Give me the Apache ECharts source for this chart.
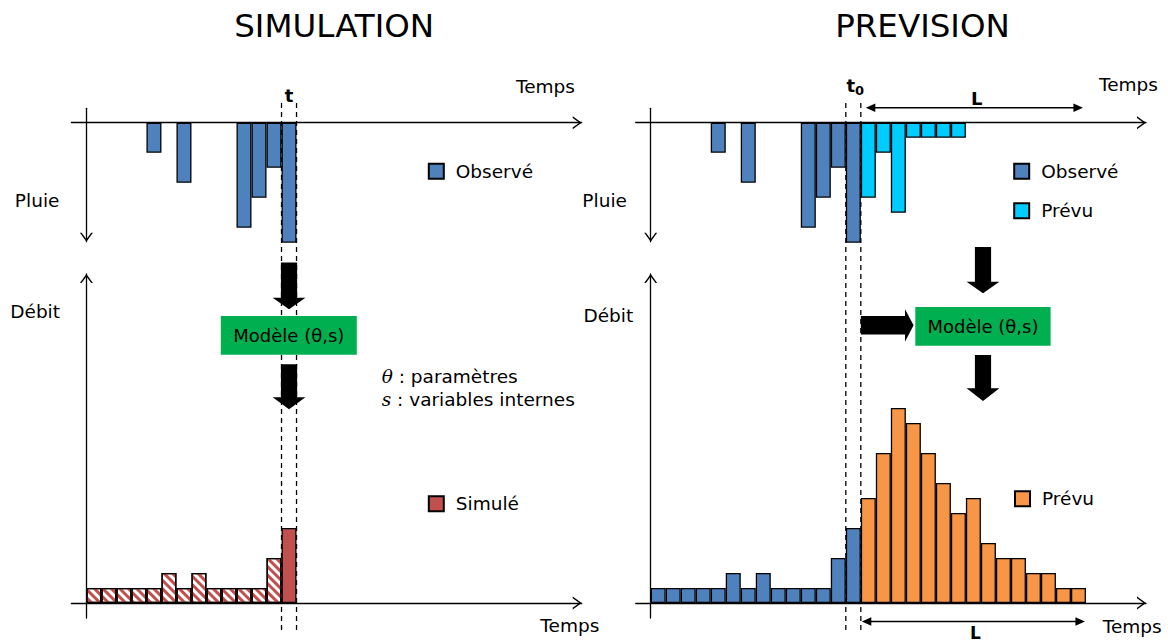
<!DOCTYPE html>
<html><head><meta charset="utf-8">
<script src="https://cdn.jsdelivr.net/npm/echarts@6/dist/echarts.min.js"></script>
<style>html,body{margin:0;padding:0;background:#fff}#c{width:1168px;height:641px}</style>
</head><body><div id="c"></div>
<script>
// ---------- data ----------
const timeSlots = ['0','1','2','3','4','5','6','7','8','9','10','11','12','13','14','15','16',
  '17','18','19','20','21','22','23','24','25','26','27','28','29','30','31','32','33'];
const rainObserved = [0,0,0,0,2,0,4,0,0,0,7,5,3,8];          // pas 1–14
const rainForecast = [5,2,6,1,1,1,1];                        // pas 15–21
const flowSimPast  = [1,1,1,1,1,2,1,2,1,1,1,1,3];            // pas 1–13 (hachuré)
const flowSimNow   = [5];                                    // pas 14 (t)
const flowObserved = [1,1,1,1,1,2,1,2,1,1,1,1,3,5];          // pas 1–14
const flowForecast = [7,10,13,12,10,8,6,7,4,3,3,2,2,1,1];    // pas 15–29
const FIRST_SLOT = 1;

// ---------- style ----------
const FONT = 'DejaVu Sans';
const FS = 18.5;
const C_OBS = '#4f81bd', C_SIM = '#c0504d', C_RAINF = '#00ccff', C_FLOWF = '#f79646', C_BOX = '#00b050';
const CHEV = 'path://M0,9L6.5,0L13,9L11.3,9L6.5,2.4L1.7,9Z';
const GL = 71.4, GR = 635.7, GW = 510.3;
const BW = GW / timeSlots.length;

function place(vals, start) {
  const a = timeSlots.map(() => '-');
  vals.forEach((v, i) => { a[start + i] = v > 0 ? v : '-'; });
  return a;
}

function xAx(gi, pos) {
  return {
    gridIndex: gi, type: 'category', data: timeSlots, position: pos,
    axisLine: { onZero: true, lineStyle: { color: '#000', width: 1.3 },
      symbol: ['none', CHEV], symbolSize: [13, 9], symbolOffset: [0, -4.5] },
    axisTick: { show: false }, axisLabel: { show: false }, splitLine: { show: false }
  };
}
function yAx(gi, inverse, min, max, name, gap, padRight) {
  return {
    gridIndex: gi, type: 'value', inverse, min, max, offset: -BW,
    axisLine: { show: true, onZero: false, lineStyle: { color: '#000', width: 1.3 },
      symbol: inverse ? [CHEV, 'none'] : ['none', CHEV], symbolSize: [13, 9],
      symbolOffset: inverse ? [4.5, 0] : [0, -4.5] },
    axisTick: { show: false }, axisLabel: { show: false }, splitLine: { show: false },
    name, nameLocation: 'end', nameGap: gap,
    nameTextStyle: { fontFamily: FONT, fontSize: FS, color: '#000', align: 'right',
      verticalAlign: 'middle', padding: [0, padRight, 0, 0] }
  };
}
function bar(name, idx, data, color, decal) {
  const itemStyle = { color, borderColor: '#000', borderWidth: 1.3 };
  if (decal) itemStyle.decal = decal;
  return { type: 'bar', name, xAxisIndex: idx, yAxisIndex: idx, data, barWidth: '100%',
    barGap: '-100%', clip: false, itemStyle, emphasis: { disabled: true }, z: 3 };
}
function legend(names, left, top) {
  return {
    data: names, left, top, orient: 'vertical', padding: 0, itemGap: 20.5,
    itemWidth: 15, itemHeight: 15, icon: 'rect', selectedMode: false,
    textStyle: { fontFamily: FONT, fontSize: FS, color: '#000', lineHeight: 15, padding: [0, 0, 0, 7] }
  };
}

const chart = echarts.init(document.getElementById('c'), null, { renderer: 'svg' });
chart.setOption({
  animation: false,
  backgroundColor: '#fff',
  textStyle: { fontFamily: FONT },
  grid: [
    { left: GL, top: 108.3, width: GW, height: 133.4, outerBoundsMode: 'none' },
    { left: GL, top: 274, width: GW, height: 344, outerBoundsMode: 'none' },
    { left: GR, top: 108.3, width: GW, height: 133.4, outerBoundsMode: 'none' },
    { left: GR, top: 274, width: GW, height: 344, outerBoundsMode: 'none' }
  ],
  xAxis: [ xAx(0, 'top'), xAx(1, 'bottom'), xAx(2, 'top'), xAx(3, 'bottom') ],
  yAxis: [
    yAx(0, true, -0.96, 7.93, 'Pluie', -41, 27),
    yAx(1, false, -1, 21.93, 'Débit', -37.7, 26.4),
    yAx(2, true, -0.96, 7.93, 'Pluie', -41, 23.8),
    yAx(3, false, -1, 21.93, 'Débit', -41, 17.5)
  ],
  legend: [
    legend(['Observé'], 427.8, 161.7),
    legend(['Simulé'], 427.8, 494.3),
    legend(['Observé', 'Prévu'], 1013.2, 161.7),
    legend([{ name: 'Prévu', itemStyle: { color: C_FLOWF } }], 1014, 489.3)
  ],
  series: [
    bar('Observé', 0, place(rainObserved, FIRST_SLOT), C_OBS),
    bar('Simulé (pas antérieurs)', 1, place(flowSimPast, FIRST_SLOT), '#ffffff',
      { symbol: 'rect', symbolSize: 1, color: C_SIM, dashArrayX: [1, 0], dashArrayY: [2.2, 2.1], rotation: Math.PI / 4 }),
    bar('Simulé', 1, place(flowSimNow, FIRST_SLOT + flowSimPast.length), C_SIM),
    bar('Observé', 2, place(rainObserved, FIRST_SLOT), C_OBS),
    bar('Prévu', 2, place(rainForecast, FIRST_SLOT + rainObserved.length), C_RAINF),
    bar('Débit observé', 3, place(flowObserved, FIRST_SLOT), C_OBS),
    bar('Prévu', 3, place(flowForecast, FIRST_SLOT + flowObserved.length), C_FLOWF)
  ]
});

// ---------- annotations positioned from the axes ----------
const nowL = FIRST_SLOT + flowSimPast.length;          // slot of t
const nowR = FIRST_SLOT + flowObserved.length - 1;     // slot of t0
const cL = chart.convertToPixel({ xAxisIndex: 0 }, nowL);
const cR = chart.convertToPixel({ xAxisIndex: 2 }, nowR);
const endF = chart.convertToPixel({ xAxisIndex: 3 }, nowR + flowForecast.length) + BW / 2;
const t0x = cR + BW / 2;
const axEndL = GL + GW, axEndR = GR + GW;

function dashed(x) {
  return { type: 'line', shape: { x1: x, y1: 103, x2: x, y2: 633 }, z: 1,
    style: { stroke: '#000', lineWidth: 1.3, lineDash: [5, 4] } };
}
function downArrow(cx, top, base, tip) {
  const hs = 8.1, hh = 16.4;
  return { type: 'polygon', z: 100, style: { fill: '#000' },
    shape: { points: [[cx - hs, top], [cx + hs, top], [cx + hs, base], [cx + hh, base], [cx, tip], [cx - hh, base], [cx - hs, base]] } };
}
function dblArrow(x1, x2, y) {
  return [
    { type: 'line', z: 100, shape: { x1: x1 + 6, y1: y, x2: x2 - 6, y2: y }, style: { stroke: '#000', lineWidth: 1.5 } },
    { type: 'polygon', z: 100, shape: { points: [[x1, y], [x1 + 9.5, y - 4.2], [x1 + 9.5, y + 4.2]] }, style: { fill: '#000' } },
    { type: 'polygon', z: 100, shape: { points: [[x2, y], [x2 - 9.5, y - 4.2], [x2 - 9.5, y + 4.2]] }, style: { fill: '#000' } }
  ];
}
function txt(text, x, y, size, extra) {
  return Object.assign({ type: 'text', x, y, z: 100,
    style: Object.assign({ text, fontFamily: FONT, fontSize: size, fill: '#000', align: 'center', verticalAlign: 'middle' }, extra || {}) });
}
function box(x, y, w, h) {
  return [
    { type: 'rect', z: 100, shape: { x, y, width: w, height: h }, style: { fill: C_BOX } },
    txt('Modèle (θ,s)', x + w / 2, y + h / 2, 18)
  ];
}
const RICH = { i: { fontFamily: 'DejaVu Serif', fontStyle: 'italic', fontSize: FS } };

const g = [
  dashed(cL - BW / 2), dashed(cL + BW / 2), dashed(cR - BW / 2), dashed(cR + BW / 2),
  txt('SIMULATION', 334.2, 26, 32.5),
  txt('PREVISION', 922.5, 26, 32.5),
  txt('Temps', axEndL - 6.7, 86, FS, { align: 'right' }),
  txt('Temps', axEndL + 17.6, 625, FS, { align: 'right' }),
  txt('Temps', axEndR + 12, 84.5, FS, { align: 'right' }),
  txt('Temps', axEndR + 15.7, 626.7, FS, { align: 'right' }),
  txt('t', cL, 95.5, 18, { fontWeight: 'bold' }),
  txt('t', cR - 2.5, 85, 18, { fontWeight: 'bold' }),
  txt('0', cR + 6.2, 90.5, 13, { fontWeight: 'bold' }),
  txt('L', 976.7, 98.3, 18, { fontWeight: 'bold' }),
  txt('L', 975.5, 641, 17, { fontWeight: 'bold', verticalAlign: 'bottom' }),
  downArrow(cL, 262.5, 297.7, 309.3),
  downArrow(cL, 364.3, 397.3, 409.3),
  downArrow(983, 247, 281.7, 293.3),
  downArrow(983, 355, 388.3, 401),
  { type: 'polygon', z: 100, style: { fill: '#000' },
    shape: { points: [[t0x, 316], [905, 316], [905, 309.3], [913.6, 325.3], [905, 341.7], [905, 334.5], [t0x, 334.5]] } },
  txt('{i|θ} : paramètres', 381.7, 376, FS, { align: 'left', rich: RICH }),
  txt('{i|s} : variables internes', 381.7, 399.5, FS, { align: 'left', rich: RICH })
].concat(box(220.8, 316, 136, 38.7), box(915.3, 307, 135.3, 38.7),
  dblArrow(t0x + 5, endF - 3, 107.7), dblArrow(t0x + 1, endF - 1, 621.5));

chart.setOption({ graphic: { elements: g } });
</script>
</body></html>
